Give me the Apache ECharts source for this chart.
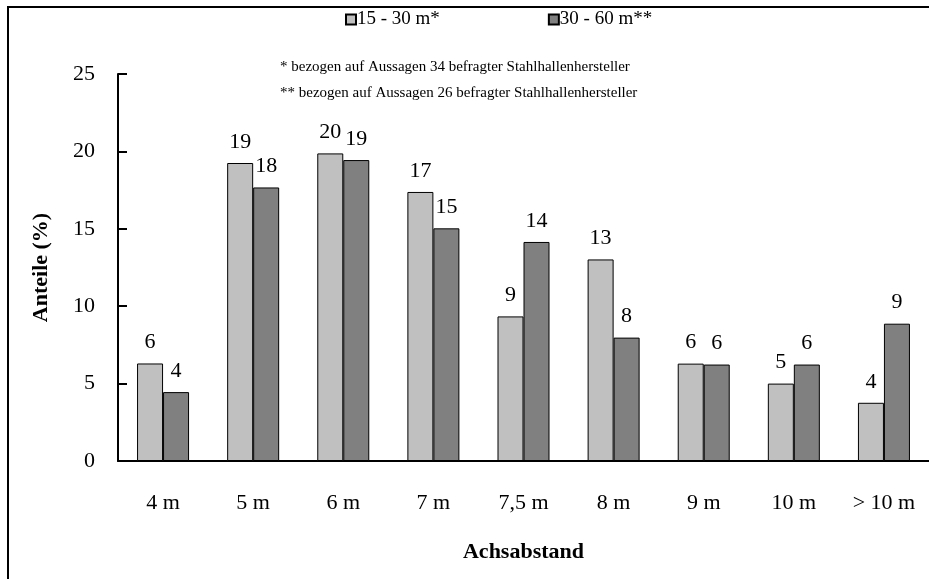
<!DOCTYPE html>
<html>
<head>
<meta charset="utf-8">
<script src="https://cdn.jsdelivr.net/npm/echarts@6/dist/echarts.min.js"></script>
<style>
  html, body { margin: 0; padding: 0; background: #fff; }
  #chart { width: 929px; height: 579px; }
</style>
</head>
<body>
<div id="chart"></div>
<script>
// Achsabstand categories and shares (%) for the two span ranges
const categories = ['4 m', '5 m', '6 m', '7 m', '7,5 m', '8 m', '9 m', '10 m', '> 10 m'];
const span15to30 = [6.3, 19.25, 19.87, 17.38, 9.34, 13.02, 6.29, 5.0, 3.76];
const span30to60 = [4.45, 17.67, 19.44, 15.03, 14.15, 7.97, 6.23, 6.23, 8.87];
const seriesNames = ['15 - 30 m*', '30 - 60 m**'];
const footnotes = [
  '* bezogen auf Aussagen 34 befragter Stahlhallenhersteller',
  '** bezogen auf Aussagen 26 befragter Stahlhallenhersteller'
];
const yTicks = { min: 0, max: 25, step: 5 };

const serif = '"Liberation Serif", "DejaVu Serif", serif';

const chart = echarts.init(document.getElementById('chart'), null, { renderer: 'canvas' });

function barSeries(name, values, color) {
  return {
    name: name,
    type: 'bar',
    data: values,
    barWidth: 26,
    barGap: '0%',
    itemStyle: { color: color, borderColor: '#000', borderWidth: 1 },
    label: {
      show: true,
      position: 'top',
      distance: 10,
      fontFamily: serif,
      fontSize: 22,
      color: '#000',
      formatter: p => String(Math.round(p.value))
    }
  };
}

chart.setOption({
  animation: false,
  backgroundColor: '#fff',
  textStyle: { fontFamily: serif, color: '#000' },
  grid: { left: 118, top: 74, width: 811, bottom: 118, containLabel: false },
  legend: {
    top: 5,
    left: 340,
    itemWidth: 10,
    itemHeight: 10,
    itemGap: 108,
    icon: 'rect',
    textStyle: { fontFamily: serif, fontSize: 19, color: '#000', padding: [0, 0, 0, -4] },
    data: seriesNames
  },
  xAxis: {
    type: 'category',
    data: categories,
    axisLine: { lineStyle: { color: '#000', width: 2 } },
    axisTick: { show: false },
    axisLabel: { fontFamily: serif, fontSize: 22, color: '#000', margin: 31 },
    name: 'Achsabstand',
    nameLocation: 'middle',
    nameGap: 80,
    nameTextStyle: { fontFamily: serif, fontSize: 22, fontWeight: 'bold', color: '#000' }
  },
  yAxis: {
    type: 'value',
    min: yTicks.min,
    max: yTicks.max,
    interval: yTicks.step,
    splitLine: { show: false },
    axisLine: { show: true, lineStyle: { color: '#000', width: 2 } },
    axisTick: { show: true, inside: true, length: 9, lineStyle: { color: '#000', width: 2 } },
    axisLabel: { fontFamily: serif, fontSize: 22, color: '#000', margin: 23 },
    name: 'Anteile (%)',
    nameLocation: 'middle',
    nameGap: 66,
    nameRotate: 90,
    nameTextStyle: { fontFamily: serif, fontSize: 22, fontWeight: 'bold', color: '#000' }
  },
  graphic: [
    {
      type: 'polyline',
      shape: { points: [[8, 579], [8, 7], [929, 7]] },
      style: { stroke: '#000', lineWidth: 2, fill: null }
    },
    {
      type: 'text',
      left: 280,
      top: 60,
      style: { text: footnotes[0], font: '15px ' + serif, fill: '#000' }
    },
    {
      type: 'text',
      left: 280,
      top: 86,
      style: { text: footnotes[1], font: '15px ' + serif, fill: '#000' }
    }
  ],
  series: [
    barSeries(seriesNames[0], span15to30, '#c0c0c0'),
    barSeries(seriesNames[1], span30to60, '#808080')
  ]
});
</script>
</body>
</html>
